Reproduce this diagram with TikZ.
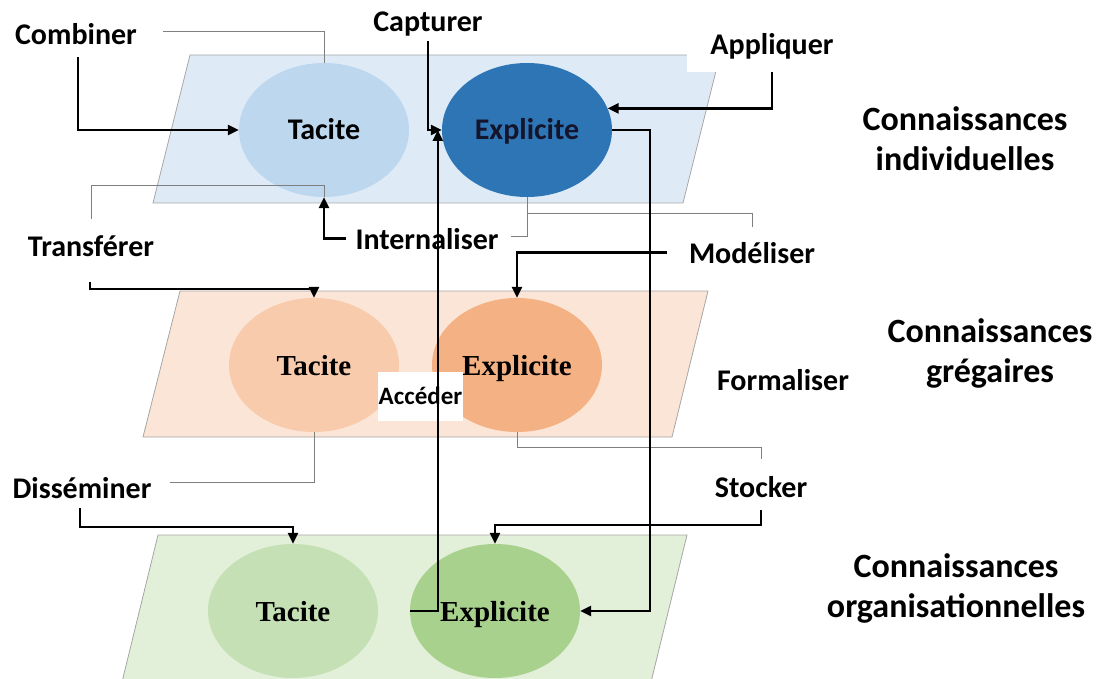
\documentclass[tikz,border=0pt]{standalone}
\usepackage{fontspec}
\newfontfamily\calf{Carlito}
\newfontfamily\tmsf{Liberation Serif}
\usetikzlibrary{arrows.meta,shapes.geometric}
\definecolor{planeB}{HTML}{DEEBF7}
\definecolor{tacB}{HTML}{BDD7EE}
\definecolor{expB}{HTML}{2E75B6}
\definecolor{planeO}{HTML}{FBE5D6}
\definecolor{tacO}{HTML}{F8CBAD}
\definecolor{expO}{HTML}{F4B183}
\definecolor{planeG}{HTML}{E2F0D9}
\definecolor{tacG}{HTML}{C5E0B4}
\definecolor{expG}{HTML}{A9D18E}
\definecolor{edgegray}{HTML}{A6A6A6}
\definecolor{thingray}{HTML}{7F7F7F}
\definecolor{darktxt}{HTML}{14142B}
\begin{document}
\begin{tikzpicture}[x=1pt,y=-1pt,
  lbl/.style={font=\calf\bfseries\fontsize{30}{34}\selectfont, inner sep=0pt, anchor=base},
  big/.style={font=\calf\bfseries\fontsize{34}{40}\selectfont, align=center, inner sep=0pt},
  ell/.style={ellipse, minimum width=170pt, minimum height=134pt, inner sep=0pt, text height=20pt, text depth=0pt},
  calell/.style={ell, font=\calf\bfseries\fontsize{30}{34}\selectfont},
  tmsell/.style={ell, font=\tmsf\bfseries\fontsize{29}{34}\selectfont},
  plane/.style={draw=edgegray, line width=0.8pt},
  arr/.style={line width=2.5pt, -{Triangle[length=11pt,width=10pt]}},
  thinln/.style={draw=thingray, line width=0.9pt},
  whitebox/.style={fill=white, inner sep=0pt}
]
\useasboundingbox (0,0) rectangle (1105,679);

% planes
\path[plane, fill=planeB] (190,55) -- (720,55) -- (683,203) -- (153,203) -- cycle;
\path[plane, fill=planeO] (180,291) -- (708,291) -- (672,437) -- (143,437) -- cycle;
\path[plane, fill=planeG] (158,535) -- (687,535) -- (651,682) -- (122,682) -- cycle;

% ellipses
\node[calell, fill=tacB] (TacI) at (324,130) {Tacite};
\node[calell, fill=expB, text=darktxt] (ExI) at (527,130) {Explicite};
\node[tmsell, fill=tacO] (TacG) at (314,365) {Tacite};
\node[tmsell, fill=expO] (ExG) at (517,365) {Explicite};
\node[tmsell, fill=tacG] (TacO) at (293,611) {Tacite};
\node[tmsell, fill=expG] (ExO) at (495,611) {Explicite};

% labels
\node[lbl] (Comb) at (76,45) {Combiner};
\node[lbl] (Capt) at (428,32) {Capturer};
\node[lbl, whitebox, anchor=center, minimum width=170pt, minimum height=52pt] (Appl) at (772,46) {Appliquer};
\node[lbl] (Trans) at (91,256) {Transférer};
\node[lbl] (Int) at (427,249) {Internaliser};
\node[lbl] (Mod) at (752,263) {Modéliser};
\node[lbl] (Form) at (783,390) {Formaliser};
\node[lbl, whitebox, anchor=center, minimum width=85pt, minimum height=49pt,
      font=\calf\bfseries\fontsize{25}{30}\selectfont] (Acc) at (420.5,396) {Accéder};
\node[lbl] (Diss) at (82,498) {Disséminer};
\node[lbl] (Stock) at (761,497) {Stocker};

\node[big] (B1) at (965,139) {Connaissances\\individuelles};
\node[big] (B2) at (990,353) {Connaissances\\grégaires};
\node[big] (B3) at (956,588) {Connaissances\\organisationnelles};

% thin connectors
\draw[thinln] ([xshift=26pt,yshift=3pt]Comb.east) -| (TacI.north);
\draw[thinln] ([yshift=16pt]Trans.north) |- ([yshift=12pt]TacI.south) -- (TacI.south);
\draw[thinln] (ExI.south) |- ([xshift=12pt,yshift=2pt]Int.east);
\draw[thinln] ([yshift=-16pt]ExI.south) -| ([yshift=15pt]Mod.north);
\draw[thinln] (ExG.south) -- ([yshift=-15pt]ExG.south) -| ([yshift=17pt]Stock.north);
\draw[thinln] ([xshift=18pt,yshift=5pt]Diss.east) -| (TacG.south);

% thick arrows
\draw[arr] ([xshift=2pt,yshift=-12pt]Comb.south) |- (TacI.west);
\draw[arr] ([yshift=-4pt]Capt.south) |- (ExI.west);
\draw[arr] (Appl.south) |- (ExI.15);
\draw[arr] (ExI.east) -| ([xshift=123pt]ExI.south) |- (ExO.east);
\draw[arr] ([xshift=-9pt]Int.west) -| (TacI.south);
\draw[arr] ([xshift=-22pt]Mod.west) -| (ExG.north);
\draw[arr] ([xshift=-1pt,yshift=-26pt]Trans.south) |- ([yshift=9pt]TacG.north) -- (TacG.north);
\draw[arr] ([xshift=-2pt,yshift=-10pt]Diss.south) |- ([yshift=17pt]TacO.north) -- (TacO.north);
\draw[arr] ([yshift=-13pt]Stock.south) |- ([yshift=19pt]ExO.north) -- (ExO.north);
\draw[arr] (ExO.west) -| ([xshift=-4pt]ExI.west);
\end{tikzpicture}
\end{document}
